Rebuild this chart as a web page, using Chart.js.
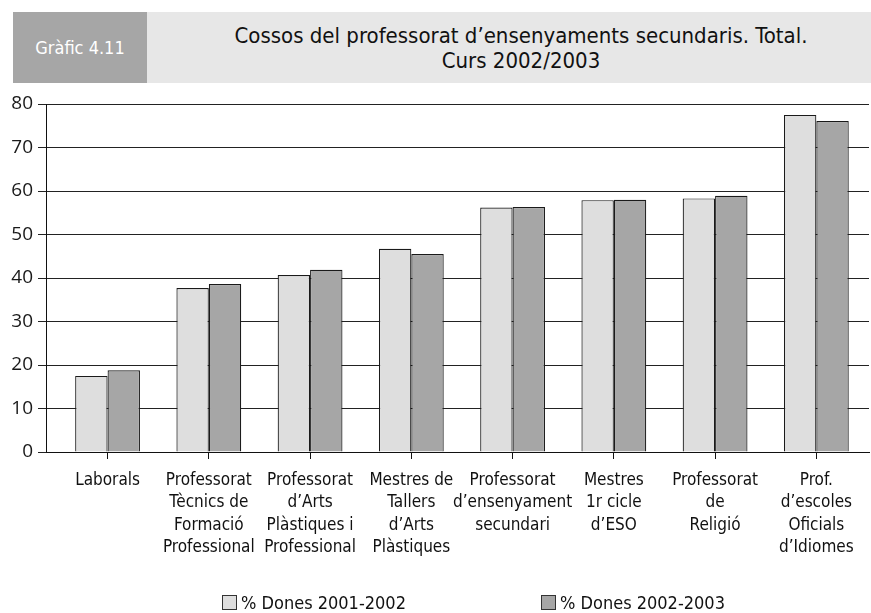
<!DOCTYPE html>
<html>
<head>
<meta charset="utf-8">
<script src="https://cdn.jsdelivr.net/npm/chart.js@4.4.1/dist/chart.umd.min.js"></script>
<style>
  html, body { margin:0; padding:0; background:#fff; }
  #wrap { position:relative; width:871px; height:613px; overflow:hidden; }
  #c { position:absolute; left:0; top:0; }
  .narrow { font-family:"Liberation Sans Narrow","DejaVu Sans Condensed","Liberation Sans",sans-serif; }
  #banner { position:absolute; left:13px; top:12px; width:858px; height:71px; background:#e7e7e7; }
  #tag { position:absolute; left:13px; top:12px; width:134px; height:71px; background:#a6a6a6; color:#fff;
         font-size:18px; line-height:71px; text-align:center; }
  #title { position:absolute; left:159px; top:23px; width:724px; text-align:center; color:#111;
           font-size:22px; line-height:25px; }
  #legend { position:absolute; top:592px; left:0; width:871px; height:21px; }
  .li { position:absolute; top:0; height:21px; font-size:18px; line-height:21px; color:#111; white-space:nowrap; }
  .li span.box { position:absolute; left:0; top:3px; width:13px; height:13px; border:1px solid #333; }
  .li span.txt { position:absolute; left:19px; top:0; }
</style>
</head>
<body>
<div id="wrap">
  <div id="banner"></div>
  <div id="tag" class="narrow">Gràfic 4.11</div>
  <div id="title" class="narrow">Cossos del professorat d’ensenyaments secundaris. Total.<br>Curs 2002/2003</div>
  <canvas id="c" width="871" height="613"></canvas>
  <div id="legend" class="narrow"></div>
</div>
<script>
const categories = [
  ["Laborals"],
  ["Professorat", "Tècnics de", "Formació", "Professional"],
  ["Professorat", "d’Arts", "Plàstiques i", "Professional"],
  ["Mestres de", "Tallers", "d’Arts", "Plàstiques"],
  ["Professorat", "d’ensenyament", "secundari"],
  ["Mestres", "1r cicle", "d’ESO"],
  ["Professorat", "de", "Religió"],
  ["Prof.", "d’escoles", "Oficials", "d’Idiomes"]
];
const dones20012002 = [17.5, 37.7, 40.7, 46.7, 56.2, 57.9, 58.3, 77.5];
const dones20022003 = [18.8, 38.6, 41.9, 45.5, 56.3, 58.0, 58.9, 76.1];
const seriesNames = ["% Dones 2001-2002", "% Dones 2002-2003"];
const yTicks = [0, 10, 20, 30, 40, 50, 60, 70, 80];

const FONT = "'Liberation Sans Narrow','DejaVu Sans Condensed','Liberation Sans',sans-serif";
const toPts = arr => arr.map((v, i) => ({ x: i, y: v }));

const chart = new Chart(document.getElementById('c'), {
  type: 'bar',
  data: {
    datasets: [
      { label: seriesNames[0], data: toPts(dones20012002), backgroundColor: '#dedede', borderColor: '#1a1a1a', borderWidth: 1.2,
        categoryPercentage: 0.64, barPercentage: 1.0 },
      { label: seriesNames[1], data: toPts(dones20022003), backgroundColor: '#a6a6a6', borderColor: '#1a1a1a', borderWidth: 1.2,
        categoryPercentage: 0.64, barPercentage: 1.0 }
    ]
  },
  options: {
    responsive: false,
    animation: false,
    devicePixelRatio: 1,
    layout: { padding: { top: 104, right: 2, bottom: 0, left: 0 } },
    plugins: { legend: { display: false }, tooltip: { enabled: false }, title: { display: false } },
    scales: {
      x: {
        type: 'linear',
        offset: false,
        min: -0.608,
        max: 7.52,
        afterBuildTicks: s => { s.ticks = categories.map((c, i) => ({ value: i })); },
        afterFit: s => { s.height = 161; },
        grid: { display: true, offset: false, drawOnChartArea: false, drawTicks: true, tickLength: 7, color: '#111', lineWidth: 1 },
        border: { display: true, color: '#111', width: 1 },
        ticks: {
          autoSkip: false, maxRotation: 0, minRotation: 0, padding: 10,
          color: '#111',
          font: { family: FONT, size: 17, lineHeight: 1.32 },
          callback: v => categories[v]
        }
      },
      y: {
        min: 0, max: 80,
        afterBuildTicks: s => { s.ticks = yTicks.map(v => ({ value: v })); },
        afterFit: s => { s.width = 46; },
        grid: { color: '#222', lineWidth: 1, drawTicks: true, tickLength: 8 },
        border: { display: true, color: '#111', width: 1 },
        ticks: { color: '#1a1a1a', padding: 5, font: { family: "'Open Sans','DejaVu Sans',sans-serif", size: 19 } }
      }
    }
  }
});

// HTML legend from dataset definitions
const leg = document.getElementById('legend');
const legX = [222, 541];
chart.data.datasets.forEach((ds, i) => {
  const d = document.createElement('div');
  d.className = 'li';
  d.style.left = legX[i] + 'px';
  d.innerHTML = '<span class="box" style="background:' + ds.backgroundColor + '"></span><span class="txt">' + ds.label + '</span>';
  leg.appendChild(d);
});
</script>
</body>
</html>
